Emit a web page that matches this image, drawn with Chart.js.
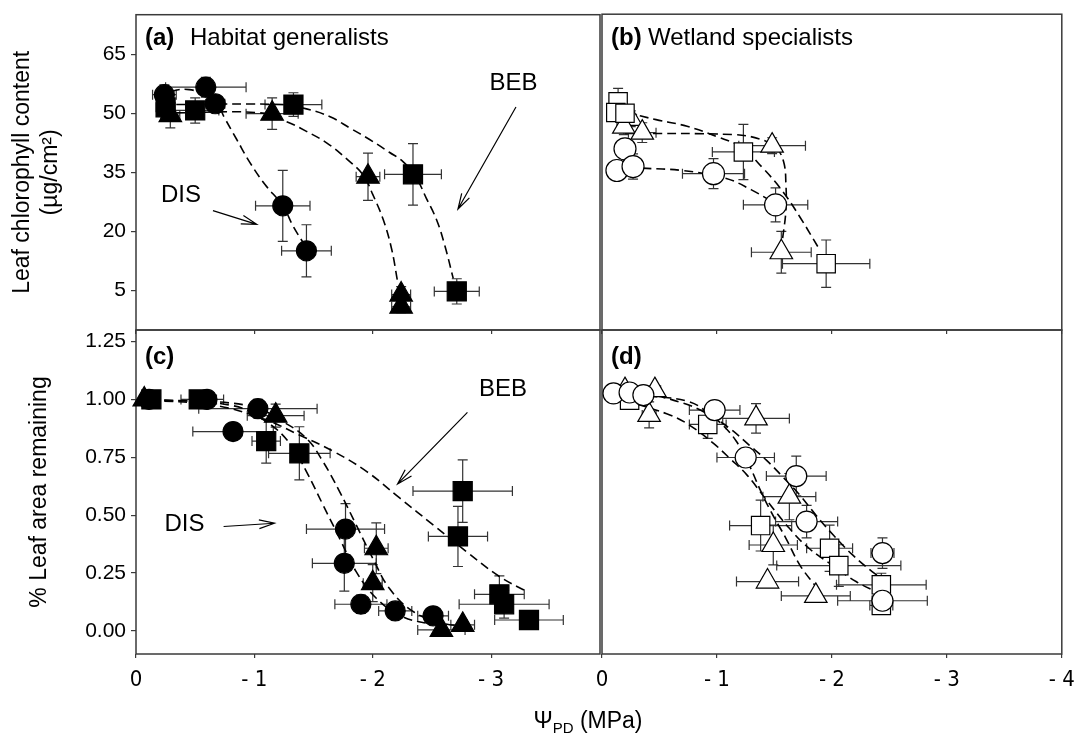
<!DOCTYPE html>
<html>
<head>
<meta charset="utf-8">
<script src="https://cdn.jsdelivr.net/npm/chart.js@4.4.1/dist/chart.umd.min.js"></script>
<style>
html, body { margin: 0; padding: 0; background: #fff; }
#wrap { position: relative; width: 1076px; height: 750px; }
#wrap canvas { position: absolute; left: 0; top: 0; }
</style>
</head>
<body>
<div id="wrap">
<canvas id="chartA" width="1076" height="750"></canvas>
<canvas id="chartB" width="1076" height="750"></canvas>
<canvas id="chartC" width="1076" height="750"></canvas>
<canvas id="chartD" width="1076" height="750"></canvas>
</div>
<script>
// tick values
const chlTicks = [5, 20, 35, 50, 65];
const areaTicks = [0, 0.25, 0.5, 0.75, 1.0, 1.25];
const psiTicksLeft = [0, 1, 2, 3];
const psiTicksRight = [0, 1, 2, 3, 4];

// rows are [psi (-MPa), value, x error, y error]
// (a) habitat generalists, chlorophyll
const aCircles = [[0.24, 54.7, 0.10, 2.5], [0.59, 56.6, 0.34, 2.5], [0.67, 52.4, 0.08, 2.0], [1.24, 26.5, 0.23, 9.0], [1.44, 15.1, 0.21, 6.6]];
const aSquares = [[0.25, 51.5, 0.08, 2.0], [0.50, 50.7, 0.20, 3.2], [1.33, 52.2, 0.24, 3.0], [2.34, 34.5, 0.24, 7.8], [2.71, 4.8, 0.19, 3.2]];
const aTriangles = [[0.29, 49.5, 0.08, 3.2], [1.15, 49.9, 0.22, 4.0], [1.96, 33.9, 0.10, 6.0], [2.24, 4.0, 0.08, 2.0], [2.24, 0.9, 0.08, 1.5]];
// fitted curves, [psi, value]
const aCircFit = [[0.18, 54.7], [0.45, 56.0], [0.67, 52.8], [0.75, 48.7], [0.85, 43.4], [0.96, 37.6], [1.09, 31.9], [1.24, 26.5], [1.33, 21.2], [1.43, 16.3]];
const aTriFit = [[0.34, 50.1], [1.05, 50.1], [1.27, 47.9], [1.44, 45.4], [1.61, 42.5], [1.78, 38.4], [1.92, 34.3], [2.0, 29.4], [2.09, 22.9], [2.16, 15.5], [2.21, 7.3]];
const aSqFit = [[0.34, 52.2], [1.24, 52.2], [1.44, 51.1], [1.64, 49.1], [1.81, 46.2], [1.97, 43.4], [2.14, 40.1], [2.26, 37.6], [2.37, 33.5], [2.45, 28.6], [2.54, 22.9], [2.61, 16.3], [2.68, 8.1]];

// (b) wetland specialists, chlorophyll
const bCircles = [[0.13, 35.4, 0.04, 2.0], [0.20, 40.9, 0.04, 2.0], [0.27, 36.4, 0.04, 3.2], [0.97, 34.6, 0.27, 3.8], [1.51, 26.7, 0.28, 4.3]];
const bSquares = [[0.14, 52.8, 0.06, 3.4], [0.12, 50.1, 0.05, 2.0], [0.20, 49.9, 0.06, 2.0], [1.23, 40.1, 0.27, 7.0], [1.95, 11.8, 0.38, 6.0]];
const bTriangles = [[0.25, 48.5, 0.05, 2.0], [0.19, 46.5, 0.06, 2.0], [0.35, 45.0, 0.12, 2.5], [1.48, 41.7, 0.29, 2.0], [1.56, 14.7, 0.26, 5.3]];
const bCircFit = [[0.35, 36.0], [0.70, 35.4], [1.07, 33.5], [1.30, 30.5], [1.51, 27.0]];
const bSqFit = [[0.21, 50.1], [0.47, 48.3], [0.74, 46.6], [1.0, 44.0], [1.21, 41.3], [1.40, 36.0], [1.57, 30.2], [1.72, 23.7], [1.89, 15.5]];
const bTriFit = [[0.20, 44.8], [1.14, 44.5], [1.37, 43.4], [1.51, 41.3], [1.58, 37.6], [1.60, 31.9], [1.60, 25.3], [1.57, 17.9]];

// (c) habitat generalists, leaf area
const cCircles = [[0.11, 1.0, 0.04, 0.02], [0.60, 1.0, 0.14, 0.03], [1.03, 0.96, 0.50, 0.04], [0.82, 0.861, 0.34, 0.03], [1.77, 0.44, 0.33, 0.11], [1.76, 0.292, 0.27, 0.12], [1.90, 0.115, 0.22, 0.04], [2.19, 0.086, 0.14, 0.03], [2.51, 0.065, 0.13, 0.03]];
const cSquares = [[0.13, 1.0, 0.06, 0.02], [0.53, 1.0, 0.15, 0.03], [1.10, 0.82, 0.12, 0.095], [1.38, 0.767, 0.26, 0.115], [2.76, 0.604, 0.42, 0.135], [2.72, 0.408, 0.25, 0.13], [3.07, 0.158, 0.21, 0.08], [3.11, 0.115, 0.38, 0.06], [3.32, 0.047, 0.29, 0.03]];
const cTriangles = [[0.07, 1.0, 0.04, 0.02], [1.18, 0.93, 0.24, 0.05], [2.03, 0.357, 0.10, 0.11], [2.0, 0.206, 0.08, 0.08], [2.58, 0.004, 0.20, 0.02], [2.76, 0.026, 0.10, 0.02]];
const cCircFit = [[0.12, 1.0], [0.82, 0.973], [1.10, 0.904], [1.30, 0.81], [1.44, 0.688], [1.58, 0.544], [1.72, 0.40], [1.86, 0.256], [2.03, 0.141], [2.25, 0.062], [2.51, 0.026]];
const cTriFit = [[0.12, 1.0], [0.96, 0.973], [1.24, 0.904], [1.44, 0.832], [1.58, 0.731], [1.72, 0.602], [1.86, 0.458], [2.0, 0.314], [2.14, 0.184], [2.34, 0.084], [2.59, 0.033], [2.77, 0.02]];
const cSqFit = [[0.12, 0.997], [0.68, 0.973], [1.10, 0.911], [1.38, 0.846], [1.67, 0.775], [1.95, 0.688], [2.23, 0.573], [2.51, 0.458], [2.79, 0.343], [3.07, 0.235], [3.30, 0.17]];

// (d) wetland specialists, leaf area
const dCircles = [[0.10, 1.026, 0.04, 0.02], [0.24, 1.03, 0.06, 0.02], [0.36, 1.019, 0.06, 0.02], [0.98, 0.954, 0.22, 0.03], [1.25, 0.749, 0.25, 0.04], [1.69, 0.669, 0.26, 0.086], [1.78, 0.472, 0.27, 0.07], [2.44, 0.336, 0.10, 0.066], [2.44, 0.13, 0.39, 0.03]];
const dSquares = [[0.24, 0.997, 0.06, 0.03], [0.92, 0.892, 0.16, 0.06], [1.38, 0.455, 0.27, 0.11], [1.98, 0.357, 0.20, 0.10], [2.06, 0.282, 0.54, 0.09], [2.43, 0.199, 0.39, 0.05], [2.43, 0.11, 0.10, 0.03]];
const dTriangles = [[0.20, 1.04, 0.04, 0.02], [0.46, 1.04, 0.05, 0.02], [0.41, 0.933, 0.06, 0.056], [1.34, 0.918, 0.29, 0.064], [1.63, 0.58, 0.23, 0.10], [1.49, 0.371, 0.21, 0.086], [1.44, 0.213, 0.27, 0.02], [1.86, 0.151, 0.30, 0.02]];
const dCircFit = [[0.11, 1.026], [0.42, 1.019], [0.71, 0.983], [0.91, 0.94], [1.11, 0.875], [1.28, 0.803], [1.43, 0.738], [1.57, 0.667], [1.72, 0.587], [1.86, 0.501], [2.01, 0.415], [2.18, 0.328], [2.35, 0.256], [2.47, 0.213]];
const dSqFit = [[0.19, 0.997], [0.59, 0.933], [0.76, 0.889], [0.97, 0.81], [1.11, 0.746], [1.26, 0.674], [1.43, 0.566], [1.63, 0.443], [1.80, 0.357], [2.04, 0.271], [2.21, 0.213], [2.41, 0.163]];
const dTriFit = [[0.16, 1.019], [0.47, 1.012], [0.76, 0.99], [0.91, 0.947], [1.05, 0.889], [1.17, 0.818], [1.28, 0.717], [1.37, 0.616], [1.47, 0.515], [1.60, 0.40], [1.72, 0.285], [1.86, 0.192]];

const FONT = "'Liberation Sans', Arial, sans-serif";
const NARROW = "'Liberation Sans Narrow', 'DejaVu Sans Condensed', 'Liberation Sans', sans-serif";
const LINE = '#3a3a3a';

Chart.defaults.font.family = FONT;
Chart.defaults.color = '#000';
Chart.defaults.animation = false;

function pts(rows) {
    return rows.map(r => ({x: r[0], y: r[1], xe: r[2], ye: r[3]}));
}

function markers(rows, style, radius, filled) {
    return {
        data: pts(rows),
        showLine: false,
        pointStyle: style,
        pointRadius: radius,
        pointBackgroundColor: filled ? '#000' : '#fff',
        pointBorderColor: '#000',
        pointBorderWidth: 1.2,
        errors: true,
        clip: false
    };
}

function fit(rows) {
    return {
        data: rows.map(r => ({x: r[0], y: r[1]})),
        showLine: true,
        pointRadius: 0,
        borderColor: '#000',
        borderWidth: 1.6,
        borderDash: [9, 5],
        tension: 0.4,
        fill: false,
        clip: false
    };
}

// no extra room for tick labels, the panels sit edge to edge
function noPad(s) {
    s.paddingTop = 0; s.paddingBottom = 0; s.paddingLeft = 0; s.paddingRight = 0;
}

// box around each panel
const frame = {
    id: 'frame',
    beforeDatasetsDraw(chart) {
        const {ctx, chartArea: a} = chart;
        ctx.save();
        ctx.strokeStyle = LINE;
        ctx.lineWidth = 1.5;
        ctx.strokeRect(a.left, a.top, a.right - a.left, a.bottom - a.top);
        ctx.restore();
    }
};

const errorBars = {
    id: 'errorBars',
    beforeDatasetsDraw(chart) {
        const {ctx, scales: {x, y}} = chart;
        ctx.save();
        ctx.strokeStyle = '#333';
        ctx.lineWidth = 1.2;
        const cap = 5;
        chart.data.datasets.forEach(ds => {
            if (!ds.errors) return;
            ds.data.forEach(p => {
                const px = x.getPixelForValue(p.x);
                const py = y.getPixelForValue(p.y);
                const x1 = x.getPixelForValue(p.x - p.xe), x2 = x.getPixelForValue(p.x + p.xe);
                const y1 = y.getPixelForValue(p.y + p.ye), y2 = y.getPixelForValue(p.y - p.ye);
                ctx.beginPath();
                ctx.moveTo(x1, py); ctx.lineTo(x2, py);
                ctx.moveTo(x1, py - cap); ctx.lineTo(x1, py + cap);
                ctx.moveTo(x2, py - cap); ctx.lineTo(x2, py + cap);
                ctx.moveTo(px, y1); ctx.lineTo(px, y2);
                ctx.moveTo(px - cap, y1); ctx.lineTo(px + cap, y1);
                ctx.moveTo(px - cap, y2); ctx.lineTo(px + cap, y2);
                ctx.stroke();
            });
        });
        ctx.restore();
    }
};

const notes = {
    id: 'notes',
    afterDatasetsDraw(chart, args, o) {
        const {ctx, chartArea: a, scales: {x, y}} = chart;
        ctx.save();
        ctx.fillStyle = '#000';
        ctx.textBaseline = 'middle';
        if (o.tag) {
            ctx.font = 'bold 24px ' + FONT;
            ctx.fillText(o.tag, a.left + 9, a.top + o.tagY);
        }
        if (o.title) {
            ctx.font = '24px ' + FONT;
            ctx.fillText(o.title, a.left + o.titleX, a.top + o.tagY);
        }
        ctx.textAlign = 'center';
        (o.texts || []).forEach(t => {
            ctx.font = '24px ' + FONT;
            ctx.fillText(t.text, x.getPixelForValue(t.x), y.getPixelForValue(t.y));
        });
        ctx.strokeStyle = '#000';
        ctx.lineWidth = 1.2;
        (o.arrows || []).forEach(r => {
            const x1 = x.getPixelForValue(r[0]), y1 = y.getPixelForValue(r[1]);
            const x2 = x.getPixelForValue(r[2]), y2 = y.getPixelForValue(r[3]);
            const ang = Math.atan2(y2 - y1, x2 - x1);
            ctx.beginPath();
            ctx.moveTo(x1, y1); ctx.lineTo(x2, y2);
            ctx.moveTo(x2 - 16 * Math.cos(ang - 0.28), y2 - 16 * Math.sin(ang - 0.28));
            ctx.lineTo(x2, y2);
            ctx.lineTo(x2 - 16 * Math.cos(ang + 0.28), y2 - 16 * Math.sin(ang + 0.28));
            ctx.stroke();
        });
        if (o.xlabel) {
            // Psi with PD subscript
            const big = '23px ' + FONT, small = '15px ' + FONT;
            ctx.textAlign = 'left';
            ctx.font = big; const w1 = ctx.measureText('\u03A8').width;
            ctx.font = small; const w2 = ctx.measureText('PD').width;
            ctx.font = big; const w3 = ctx.measureText(' (MPa)').width;
            let sx = o.xlabel.x - (w1 + w2 + w3) / 2;
            ctx.fillText('\u03A8', sx, o.xlabel.y);
            ctx.font = small; ctx.fillText('PD', sx + w1, o.xlabel.y + 7);
            ctx.font = big; ctx.fillText(' (MPa)', sx + w1 + w2, o.xlabel.y);
        }
        ctx.restore();
    }
};

function psiLabel(v) {
    return v === 0 ? '0' : '- ' + v;
}

function xScale(max, ticks, bottomRow) {
    return {
        type: 'linear', min: 0, max: max,
        afterBuildTicks: s => { s.ticks = ticks.map(v => ({value: v})); },
        ticks: {display: bottomRow, callback: psiLabel, font: {size: 22, family: NARROW}, padding: 9, maxRotation: 0},
        grid: {drawOnChartArea: false, tickLength: 4, color: LINE, lineWidth: 1.2},
        border: {display: false},
        afterFit: s => { s.height = bottomRow ? 40 : 0; noPad(s); }
    };
}

function yScale(min, max, ticks, fmt, title, titlePad, show) {
    return {
        type: 'linear', min: min, max: max, display: show,
        afterBuildTicks: s => { s.ticks = ticks.map(v => ({value: v})); },
        ticks: {callback: fmt, font: {size: 21}, padding: 5},
        grid: {drawOnChartArea: false, tickLength: 5, color: LINE, lineWidth: 1.2},
        border: {display: false},
        title: {display: true, text: title, font: {size: 23}, padding: {top: titlePad, bottom: 0}},
        afterFit: s => { s.width = show ? 136 : 0; noPad(s); }
    };
}

function panel(id, pad, datasets, xs, ys, note) {
    return new Chart(document.getElementById(id).getContext('2d'), {
        type: 'scatter',
        data: {datasets: datasets},
        options: {
            responsive: false,
            layout: {padding: pad},
            scales: {x: xs, y: ys},
            plugins: {legend: {display: false}, tooltip: {enabled: false}, notes: note}
        },
        plugins: [frame, errorBars, notes]
    });
}

const chlFmt = v => String(v);
const areaFmt = v => v.toFixed(2);
const chlTitle = ['Leaf chlorophyll content', '(\u00B5g/cm\u00B2)'];
const areaTitle = '% Leaf area remaining';

panel('chartA', {left: 0, top: 7, right: 476, bottom: 420}, [
    markers(aCircles, 'circle', 10, true),
    markers(aSquares, 'rect', 13.5, true),
    markers(aTriangles, 'triangle', 13, true),
    fit(aCircFit), fit(aTriFit), fit(aSqFit)
], xScale(3.92, psiTicksLeft, false), yScale(-5, 75, chlTicks, chlFmt, chlTitle, 9, true), {
    tag: '(a)', title: 'Habitat generalists', titleX: 54, tagY: 24,
    texts: [{text: 'BEB', x: 3.19, y: 57.5}, {text: 'DIS', x: 0.38, y: 29.2}],
    arrows: [[3.21, 51.6, 2.72, 25.7], [0.65, 25.3, 1.02, 21.8]]
});

panel('chartB', {left: 602, top: 7, right: 13, bottom: 420}, [
    markers(bCircles, 'circle', 11, false),
    markers(bSquares, 'rect', 13, false),
    markers(bTriangles, 'triangle', 13, false),
    fit(bCircFit), fit(bSqFit), fit(bTriFit)
], xScale(4, psiTicksRight, false), yScale(-5, 75, chlTicks, chlFmt, '', 0, false), {
    tag: '(b)', title: 'Wetland specialists', titleX: 46, tagY: 24
});

panel('chartC', {left: 0, top: 330, right: 476, bottom: 56}, [
    markers(cCircles, 'circle', 10, true),
    markers(cSquares, 'rect', 13.5, true),
    markers(cTriangles, 'triangle', 13, true),
    fit(cCircFit), fit(cTriFit), fit(cSqFit)
], xScale(3.92, psiTicksLeft, true), yScale(-0.1, 1.3, areaTicks, areaFmt, areaTitle, 26, true), {
    tag: '(c)', tagY: 27,
    texts: [{text: 'BEB', x: 3.1, y: 1.044}, {text: 'DIS', x: 0.41, y: 0.461}],
    arrows: [[2.8, 0.944, 2.21, 0.635], [0.74, 0.451, 1.17, 0.465]],
    xlabel: {x: 588, y: 722}
});

panel('chartD', {left: 602, top: 330, right: 13, bottom: 56}, [
    markers(dCircles, 'circle', 10.5, false),
    markers(dSquares, 'rect', 13, false),
    markers(dTriangles, 'triangle', 13, false),
    fit(dCircFit), fit(dSqFit), fit(dTriFit)
], xScale(4, psiTicksRight, true), yScale(-0.1, 1.3, areaTicks, areaFmt, '', 0, false), {
    tag: '(d)', tagY: 27
});
</script>
</body>
</html>
